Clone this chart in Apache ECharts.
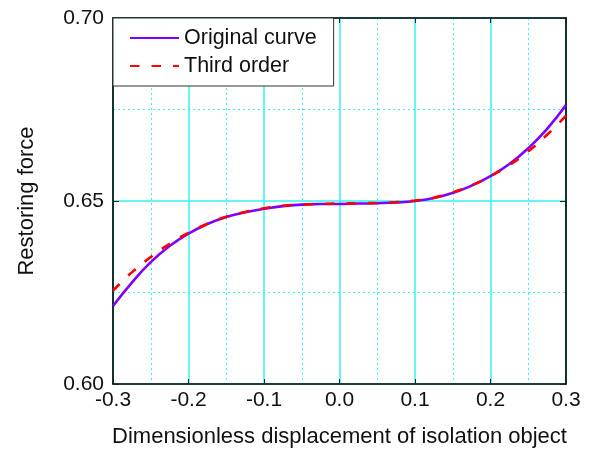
<!DOCTYPE html>
<html>
<head>
<meta charset="utf-8">
<script src="https://cdn.jsdelivr.net/npm/echarts@6/dist/echarts.min.js"></script>
<style>
html,body{margin:0;padding:0;background:#fff;}
#chart{width:589px;height:454px;}
</style>
</head>
<body>
<div id="chart"></div>
<script>
var xValues = [-0.3,-0.275,-0.25,-0.225,-0.2,-0.175,-0.15,-0.125,-0.1,-0.075,-0.05,-0.025,0,0.025,0.05,0.075,0.1,0.125,0.15,0.175,0.2,0.225,0.25,0.275,0.3];
var originalCurve = [0.6213,0.6277,0.6333,0.6377,0.6411,0.6437,0.6456,0.6469,0.6479,0.6486,0.6490,0.6492,0.6492,0.6493,0.6494,0.6496,0.6500,0.6508,0.6522,0.6542,0.6568,0.6601,0.6644,0.6697,0.6762];
var thirdOrder = [0.6255,0.6305,0.6347,0.6383,0.6413,0.6438,0.6457,0.6470,0.6480,0.6487,0.6490,0.6492,0.6493,0.6494,0.6495,0.6497,0.6501,0.6509,0.6524,0.6543,0.6568,0.6598,0.6636,0.6681,0.6733];
var seriesNames = ['Original curve','Third order'];
var xAxisTitle = 'Dimensionless displacement of isolation object';
var yAxisTitle = 'Restoring force';

function pairs(xs, ys){ return xs.map(function(x,i){ return [x, ys[i]]; }); }

var FONT = 'Liberation Sans';
var cyan = '#33f2f2';
var chart = echarts.init(document.getElementById('chart'), null, {renderer:'canvas'});

var baseX = {
  type:'value', min:-0.3, max:0.3, interval:0.1,
  axisLine:{show:true, onZero:false, lineStyle:{color:'#000', width:1.6}},
  axisTick:{show:true, inside:true, length:5, lineStyle:{color:'#222', width:1}},
  minorTick:{show:false}
};
var baseY = {
  type:'value', min:0.6, max:0.7, interval:0.05,
  axisLine:{show:true, onZero:false, lineStyle:{color:'#000', width:1.6}},
  axisTick:{show:true, inside:true, length:6, lineStyle:{color:'#222', width:1}},
  minorTick:{show:false}
};

chart.setOption({
  animation:false,
  backgroundColor:'#fff',
  textStyle:{fontFamily:FONT},
  grid:{left:113, top:18, width:453, height:366, containLabel:false},
  legend:{
    data:seriesNames,
    orient:'vertical', left:113, top:18,
    padding:[9,17,9,16], itemGap:6,
    itemWidth:49, itemHeight:20,
    backgroundColor:'#fff', borderColor:'#333', borderWidth:1,
    itemStyle:{opacity:0},
    textStyle:{fontFamily:FONT, fontSize:21.5, lineHeight:20, color:'#111'}
  },
  xAxis:[
    Object.assign({}, baseX, {
      position:'bottom',
      name:xAxisTitle, nameLocation:'middle', nameGap:42,
      nameTextStyle:{fontFamily:FONT, fontSize:22, color:'#111'},
      axisLabel:{show:true, margin:6, fontFamily:FONT, fontSize:21, color:'#111',
        formatter:function(v){ return v.toFixed(1); }},
      splitLine:{show:true, lineStyle:{color:cyan, width:1.5}},
      minorSplitLine:{show:true, lineStyle:{color:cyan, width:1, type:[2,3]}},
      minorTick:{show:false, splitNumber:2}
    }),
    Object.assign({}, baseX, {
      position:'top', axisLabel:{show:false}, splitLine:{show:false}
    })
  ],
  yAxis:[
    Object.assign({}, baseY, {
      position:'left',
      name:yAxisTitle, nameLocation:'middle', nameGap:75,
      nameTextStyle:{fontFamily:FONT, fontSize:22, color:'#111'},
      axisLabel:{show:true, margin:9, fontFamily:FONT, fontSize:21, color:'#111',
        formatter:function(v){ return v.toFixed(2); }},
      splitLine:{show:true, lineStyle:{color:cyan, width:1.5}},
      minorSplitLine:{show:true, lineStyle:{color:cyan, width:1, type:[2,3]}},
      minorTick:{show:false, splitNumber:2}
    }),
    Object.assign({}, baseY, {
      position:'right', axisLabel:{show:false}, splitLine:{show:false}
    })
  ],
  series:[
    {
      name:seriesNames[0], type:'line', xAxisIndex:0, yAxisIndex:0,
      data:pairs(xValues, originalCurve), smooth:true, symbol:'none',
      lineStyle:{color:'#7f00ff', width:2.6}, itemStyle:{color:'#7f00ff'}, z:3
    },
    {
      name:seriesNames[1], type:'line', xAxisIndex:0, yAxisIndex:0,
      data:pairs(xValues, thirdOrder), smooth:true, symbol:'none',
      lineStyle:{color:'#ff0000', width:2.6, type:[9.5,12]}, itemStyle:{color:'#ff0000'}, z:4
    }
  ]
});
</script>
</body>
</html>
